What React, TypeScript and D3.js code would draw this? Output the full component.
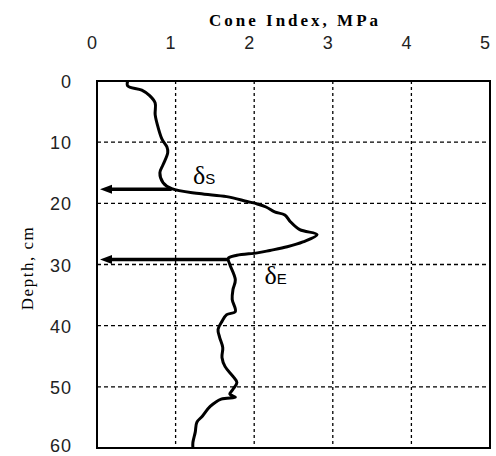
import * as React from 'react';
import * as d3 from "d3";

// Chart size and plot frame margins
const width = 496
const height = 456
const margin = {top: 81, right: 6, bottom: 8, left: 97}

// Cone index profile (MPa) against depth (cm)
const depths = [0, 0.8, 1.5, 2.4, 3.6, 5.5, 7.7, 9.6, 10.8, 11.7, 13.7, 15.0, 16.6, 17.6,
    18.4, 18.9, 19.7, 20.1, 20.6, 21.4, 21.9, 23.0, 24.3, 25.1, 26.3, 27.1, 27.7, 28.1,
    28.5, 29.0, 30.0, 32.5, 34.1, 35.7, 37.7, 38.2, 39.3, 40.6, 41.9, 43.6, 45.2, 46.7,
    48.3, 49.3, 50.4, 51.2, 51.7, 52.0, 53.2, 54.8, 55.8, 57.4, 59.1, 60]
const coneIndex = [0.39, 0.39, 0.57, 0.67, 0.74, 0.74, 0.78, 0.83, 0.89, 0.90, 0.84, 0.80, 0.84, 0.95,
    1.30, 1.65, 1.91, 2.04, 2.15, 2.26, 2.39, 2.46, 2.58, 2.80, 2.62, 2.42, 2.20, 2.04,
    1.78, 1.67, 1.69, 1.76, 1.73, 1.72, 1.76, 1.65, 1.59, 1.54, 1.56, 1.60, 1.59, 1.63,
    1.73, 1.78, 1.73, 1.69, 1.76, 1.58, 1.44, 1.34, 1.27, 1.25, 1.22, 1.22]

// Layer boundaries marked with arrows
const markerNames = ["S", "E"]
const markerDepths = [17.7, 29.2]
const markerValues = [0.95, 1.67]
const markerLabelAt = [{v: 1.22, d: 16.8}, {v: 2.13, d: 33.2}]

// Axis ticks
const xTicks = [0, 1, 2, 3, 4, 5]
const yTicks = [0, 10, 20, 30, 40, 50, 60]

const App = () => {
    const x = d3.scaleLinear().domain([0, 5]).range([margin.left, width - margin.right])
    const y = d3.scaleLinear().domain([0, 60]).range([margin.top, height - margin.bottom])

    const points = depths.map((d, i) => ({d, v: coneIndex[i]}))
    const line = d3.line<{d: number, v: number}>()
        .x(p => x(p.v))
        .y(p => y(p.d))
        .curve(d3.curveCatmullRom.alpha(0.5))

    const x0 = x(0), x1 = x(5), y0 = y(0), y1 = y(60)

    return (
        <svg width={width} height={height} style={{position: 'absolute', left: 0, top: 0, background: '#fff'}}>
            {/* title */}
            <text x={295} y={26} textAnchor="middle" fontFamily="Liberation Serif" fontWeight="bold"
                  fontSize={17} letterSpacing={3}>Cone Index, MPa</text>

            {/* top axis labels */}
            {xTicks.map(t => (
                <text key={'xt' + t} x={x(t) - 5} y={49} textAnchor="middle" fontFamily="Liberation Sans"
                      fontSize={18} fill="#222">{t}</text>
            ))}

            {/* left axis labels */}
            {yTicks.map(t => (
                <text key={'yt' + t} x={72} y={Math.min(y(t) + 7, height - 4)} textAnchor="end"
                      fontFamily="Liberation Sans" fontSize={18} letterSpacing={1} fill="#222">{t}</text>
            ))}

            <text transform={`translate(27,${268}) rotate(-90)`} textAnchor="middle" dominantBaseline="central"
                  fontFamily="Liberation Serif" fontSize={17} letterSpacing={1.5}>Depth, cm</text>

            {/* dashed grid */}
            {xTicks.slice(1, -1).map(t => (
                <line key={'gx' + t} x1={x(t)} x2={x(t)} y1={y0} y2={y1} stroke="#000"
                      strokeWidth={1.3} strokeDasharray="3,3" />
            ))}
            {yTicks.slice(1, -1).map(t => (
                <line key={'gy' + t} x1={x0} x2={x1} y1={y(t)} y2={y(t)} stroke="#000"
                      strokeWidth={1.3} strokeDasharray="4,3" />
            ))}

            {/* frame */}
            <rect x={x0} y={y0} width={x1 - x0} height={y1 - y0} fill="none" stroke="#000" strokeWidth={2} />

            {/* profile */}
            <path d={line(points) ?? ''} fill="none" stroke="#000" strokeWidth={3} strokeLinejoin="round" />

            {/* boundary arrows */}
            {markerDepths.map((d, i) => {
                const yy = y(d)
                const tip = x(0) + 3
                return (
                    <g key={'m' + i}>
                        <line x1={x(markerValues[i])} x2={tip + 8} y1={yy} y2={yy} stroke="#000" strokeWidth={3.5} />
                        <path d={`M${tip},${yy} L${tip + 12},${yy - 4.5} L${tip + 12},${yy + 4.5} Z`} fill="#000" />
                    </g>
                )
            })}

            {/* delta labels */}
            {markerNames.map((n, i) => (
                <text key={'ml' + i} x={x(markerLabelAt[i].v)} y={y(markerLabelAt[i].d)}
                      fontFamily="Liberation Serif" fill="#000">
                    <tspan fontSize={26}>δ</tspan>
                    <tspan fontSize={15} fontFamily="Liberation Sans">{n}</tspan>
                </text>
            ))}
        </svg>
    )
}

export default App
